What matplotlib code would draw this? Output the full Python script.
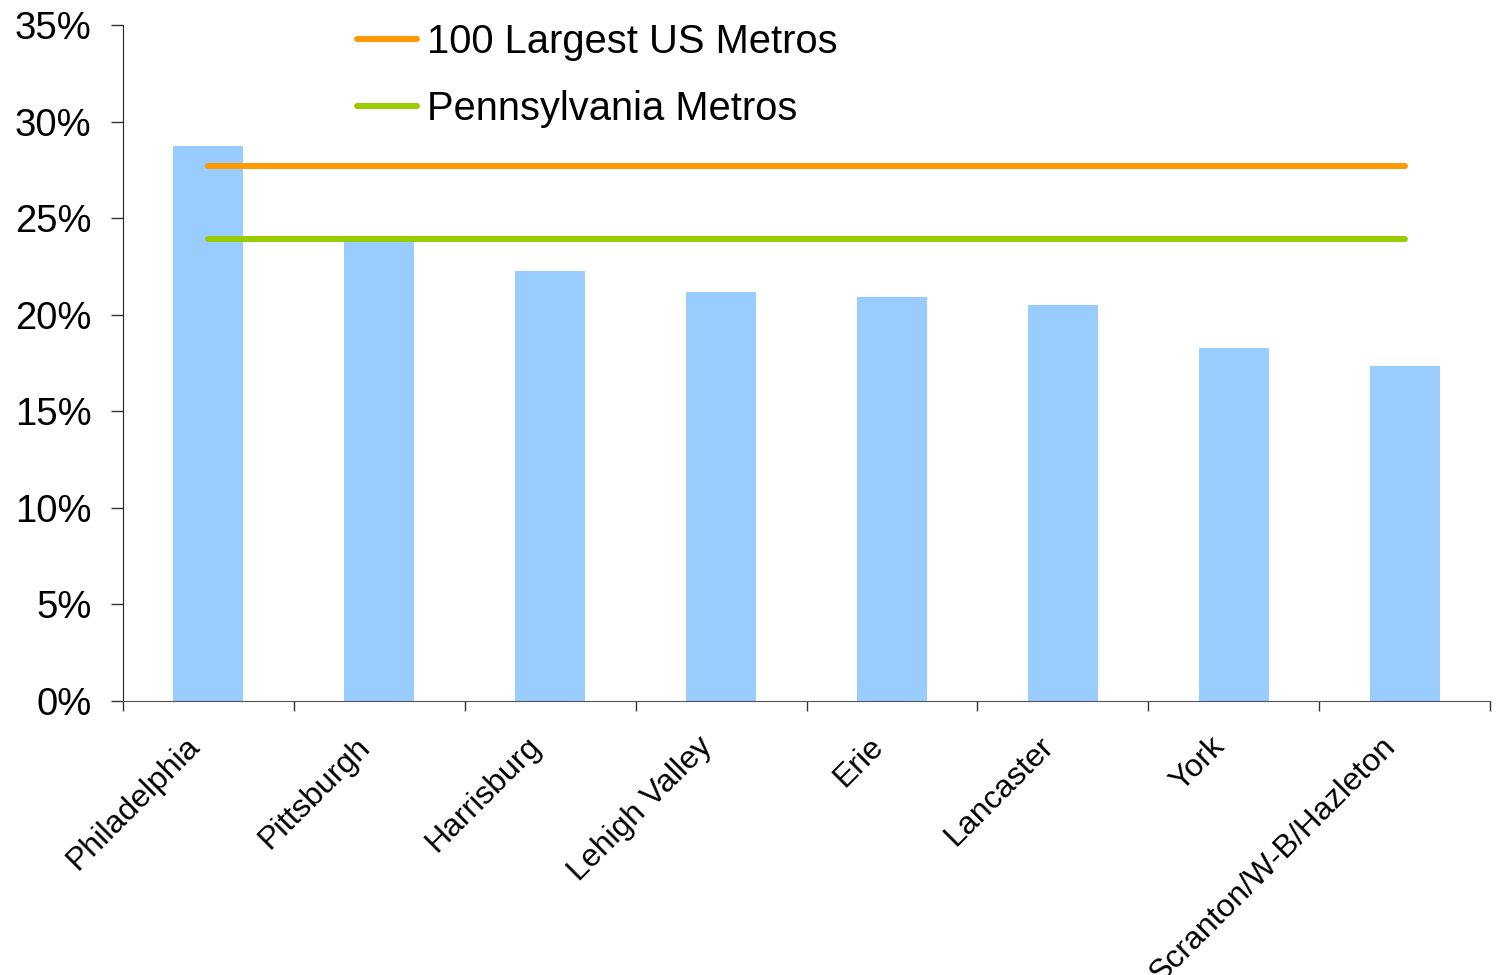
import matplotlib
matplotlib.use("Agg")
import matplotlib.pyplot as plt
import matplotlib.transforms as mtransforms
import numpy as np
from matplotlib.ticker import FuncFormatter, FixedLocator

categories = ["Philadelphia", "Pittsburgh", "Harrisburg", "Lehigh Valley", "Erie",
              "Lancaster", "York", "Scranton/W-B/Hazleton"]
values = [28.75, 23.9, 22.25, 21.2, 20.9, 20.5, 18.3, 17.35]
us_avg = 27.7
pa_avg = 23.9
ytick_vals = [0, 5, 10, 15, 20, 25, 30, 35]

plt.rcParams['font.family'] = ['Liberation Sans', 'DejaVu Sans']

fig = plt.figure(figsize=(14.97, 9.75), dpi=100)
ax = fig.add_axes([123/1497, 1-701/975, (1490-123)/1497, (701-25)/975])

x = np.arange(len(categories))
ax.bar(x, values, width=0.41, color="#99CCFF", zorder=2)
ax.plot([x[0], x[-1]], [us_avg, us_avg], color="#FF9900", lw=4.3,
        solid_capstyle='round', label="100 Largest US Metros", zorder=3)
ax.plot([x[0], x[-1]], [pa_avg, pa_avg], color="#99CC00", lw=4.3,
        solid_capstyle='round', label="Pennsylvania Metros", zorder=3)

ax.set_xlim(-0.5, len(categories) - 0.5)
ax.set_ylim(0, 35)
ax.set_yticks(ytick_vals)
ax.yaxis.set_major_formatter(FuncFormatter(lambda v, p: f"{v:.0f}%"))
ax.tick_params(axis='y', labelsize=27.5, length=8.6, width=1, pad=14, color='#333333')

ax.xaxis.set_major_locator(FixedLocator(np.arange(-0.5, len(categories), 1.0)))
ax.xaxis.set_minor_locator(FixedLocator(x))
ax.set_xticklabels([], minor=False)
labels = ax.set_xticklabels(categories, minor=True, rotation=45, ha='right',
                            rotation_mode='anchor', fontsize=23)
ax.tick_params(axis='x', which='major', length=7.5, width=1, color='#333333')
ax.tick_params(axis='x', which='minor', length=0, pad=22)
offset = mtransforms.ScaledTranslation(-24/100, 0, fig.dpi_scale_trans)
for lab in ax.xaxis.get_minorticklabels():
    lab.set_transform(lab.get_transform() + offset)

for s in ['top', 'right']:
    ax.spines[s].set_visible(False)
ax.spines['left'].set_color('#222222')
ax.spines['bottom'].set_color('#555555')

leg = ax.legend(loc='upper left', bbox_to_anchor=(357/1497, 1-23/975),
                bbox_transform=fig.transFigure, frameon=False, fontsize=28.75,
                handlelength=1.5, handletextpad=0.25, labelspacing=0.72,
                borderaxespad=0, borderpad=0)

fig.savefig("out.png", dpi=100)
